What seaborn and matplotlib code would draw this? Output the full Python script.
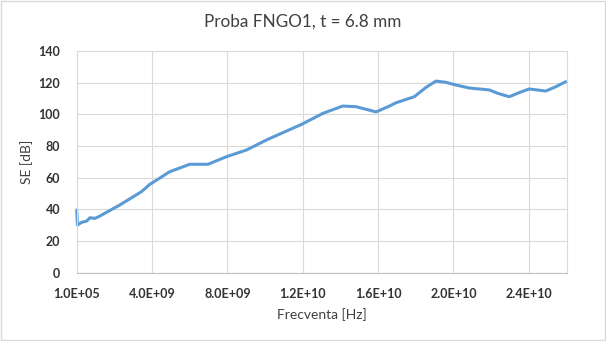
import matplotlib
matplotlib.use("Agg")
import matplotlib.pyplot as plt
import seaborn as sns
import pandas as pd
import numpy as np

# Measured shielding effectiveness of sample FNGO1 (t = 6.8 mm)
freq_ghz = [0.0001, 0.04, 0.26, 0.53, 0.70, 0.97, 1.23, 2.29, 3.44, 3.88,
            4.94, 6.00, 6.97, 7.95, 9.01, 10.15, 11.95, 13.07, 14.12, 14.83,
            15.89, 16.60, 16.95, 17.92, 18.54, 19.07, 19.60, 20.13, 20.84,
            21.90, 22.34, 22.96, 23.49, 24.02, 24.90, 25.43, 25.96]
se_db = [39.5, 30.0, 31.7, 32.5, 34.6, 34.2, 35.7, 42.7, 51.1, 55.7,
         63.7, 68.4, 68.4, 73.2, 77.4, 84.2, 93.7, 100.6, 105.2, 104.8,
         101.5, 105.2, 107.3, 111.1, 117.0, 121.0, 120.2, 118.5, 116.6,
         115.4, 113.3, 111.1, 113.7, 116.0, 114.7, 117.4, 120.6]

x_ticks = [1.0e5, 4.0e9, 8.0e9, 1.2e10, 1.6e10, 2.0e10, 2.4e10]
x_tick_labels = ["1.0E+05", "4.0E+09", "8.0E+09", "1.2E+10", "1.6E+10", "2.0E+10", "2.4E+10"]
y_ticks = [0, 20, 40, 60, 80, 100, 120, 140]

df = pd.DataFrame({"Frecventa [Hz]": np.array(freq_ghz) * 1e9, "SE [dB]": se_db})

sns.set_theme(style="white")
plt.rcParams["font.family"] = ["Lato", "DejaVu Sans"]

fig = plt.figure(figsize=(6.06, 3.41), dpi=100)
ax = fig.add_axes([76.7 / 606, 1 - 272.5 / 341, (566.5 - 76.7) / 606, (272.5 - 51) / 341])

sns.lineplot(data=df, x="Frecventa [Hz]", y="SE [dB]", ax=ax, color="#5B9BD5",
             linewidth=2.2, solid_joinstyle="round", solid_capstyle="round")
for ln in ax.get_lines():
    ln.set_clip_on(False)

ax.set_xlim(1.0e5, 2.6e10)
ax.set_ylim(0, 140)
ax.set_xticks(x_ticks)
ax.set_xticklabels(x_tick_labels)
ax.set_yticks(y_ticks)

ax.grid(True, color="#D9D9D9", linewidth=0.8)
ax.set_axisbelow(True)
for side in ["top", "right", "left"]:
    ax.spines[side].set_color("#D9D9D9")
    ax.spines[side].set_linewidth(0.8)
ax.spines["bottom"].set_color("#BFBFBF")
ax.spines["bottom"].set_linewidth(0.8)

ax.tick_params(axis="both", length=0, labelsize=9, labelcolor="#333333")
ax.tick_params(axis="x", pad=11)
ax.tick_params(axis="y", pad=12)
for lbl in ax.get_xticklabels() + ax.get_yticklabels():
    lbl.set_fontweight("bold")

ax.set_xlabel("Frecventa [Hz]", fontsize=10, color="#404040", labelpad=6)
ax.set_ylabel("SE [dB]", fontsize=10, color="#404040", labelpad=4)
fig.suptitle("Proba FNGO1, t = 6.8 mm", fontsize=12.3, color="#404040", y=1 - 22 / 341, va="center")

# chart area border
fig.patches.append(plt.Rectangle((0.001, 0.002), 0.997, 0.996, transform=fig.transFigure,
                                 fill=False, edgecolor="#D9D9D9", linewidth=1.0))

fig.savefig("out.png", dpi=100)
